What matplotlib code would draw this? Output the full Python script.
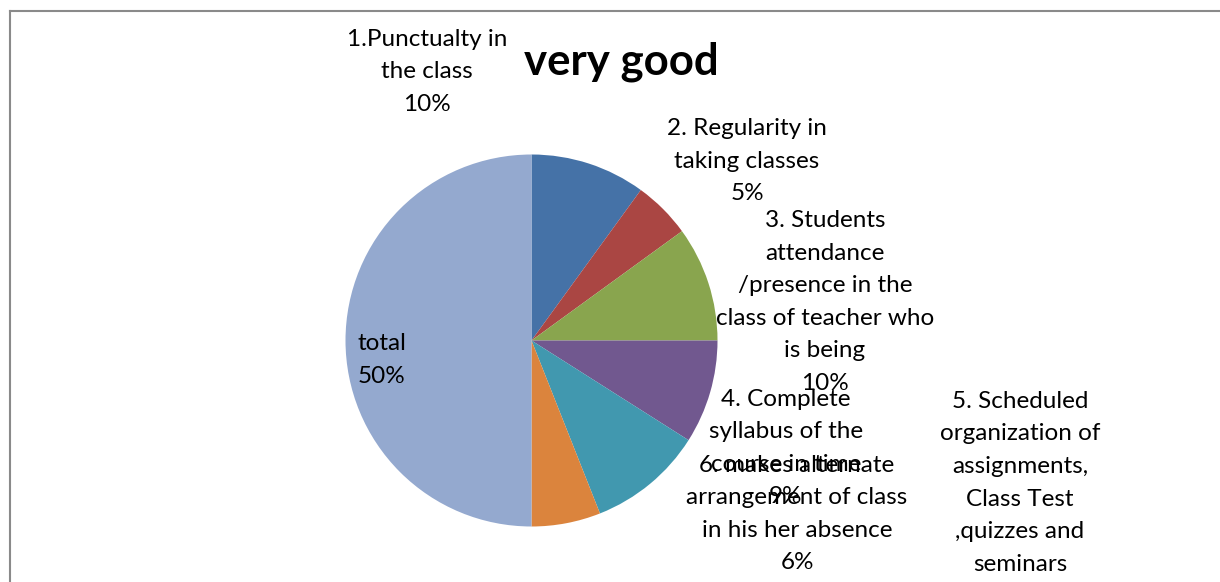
import matplotlib
matplotlib.use("Agg")
import matplotlib.pyplot as plt
from matplotlib.lines import Line2D

# ---- data ----
categories = [
    "1.Punctualty in\nthe class",
    "2. Regularity in\ntaking classes",
    "3. Students\nattendance\n/presence in the\nclass of teacher who\nis being",
    "4. Complete\nsyllabus of the\ncourse in time",
    "5. Scheduled\norganization of\nassignments,\nClass Test\n,quizzes and\nseminars",
    "6. makes alternate\narrangement of class\nin his her absence",
    "total",
]
values = [10, 5, 10, 9, 10, 6, 50]
colors = ["#4572A7", "#AA4643", "#89A54E", "#71588F", "#4198AF", "#DB843D", "#94A9CF"]
title = "very good"

# label centres in pixels (x from left, y from top)
label_pos = [(427, 72), (747, 161), (825, 302), (786, 448), (1020, 499), (797, 514), (382, 360)]

W, H = 1220, 582
fig = plt.figure(figsize=(W / 100, H / 100), dpi=100)
plt.rcParams['font.family'] = ['Lato', 'DejaVu Sans']

cx, cy, r = 531.5, 340.5, 186.0
ax = fig.add_axes([(cx - r) / W, (H - cy - r) / H, 2 * r / W, 2 * r / H])
ax.pie(values, colors=colors, startangle=90, counterclock=False,
       wedgeprops=dict(linewidth=0))
ax.set_xlim(-1, 1)
ax.set_ylim(-1, 1)
ax.set_aspect('equal')
ax.axis('off')

for cat, v, (px, py) in zip(categories, values, label_pos):
    fig.text(px / W, 1 - py / H, f"{cat}\n{v}%", ha='center', va='center',
             fontsize=17.5, linespacing=1.68, color='black', family=['Lato', 'DejaVu Sans'])

fig.text(621 / W, 1 - 62 / H, title, ha='center', va='center', fontsize=31.5,
         fontweight='bold', family=['Lato', 'DejaVu Sans'])

# chart border (cropped on right and bottom)
fig.add_artist(Line2D([10 / W, 10 / W], [1 - 11 / H, 0], transform=fig.transFigure,
                      color='#8a8a8a', linewidth=1.5))
fig.add_artist(Line2D([10 / W, 1], [1 - 11 / H, 1 - 11 / H], transform=fig.transFigure,
                      color='#8a8a8a', linewidth=1.5))

fig.savefig("out.png", dpi=100)
